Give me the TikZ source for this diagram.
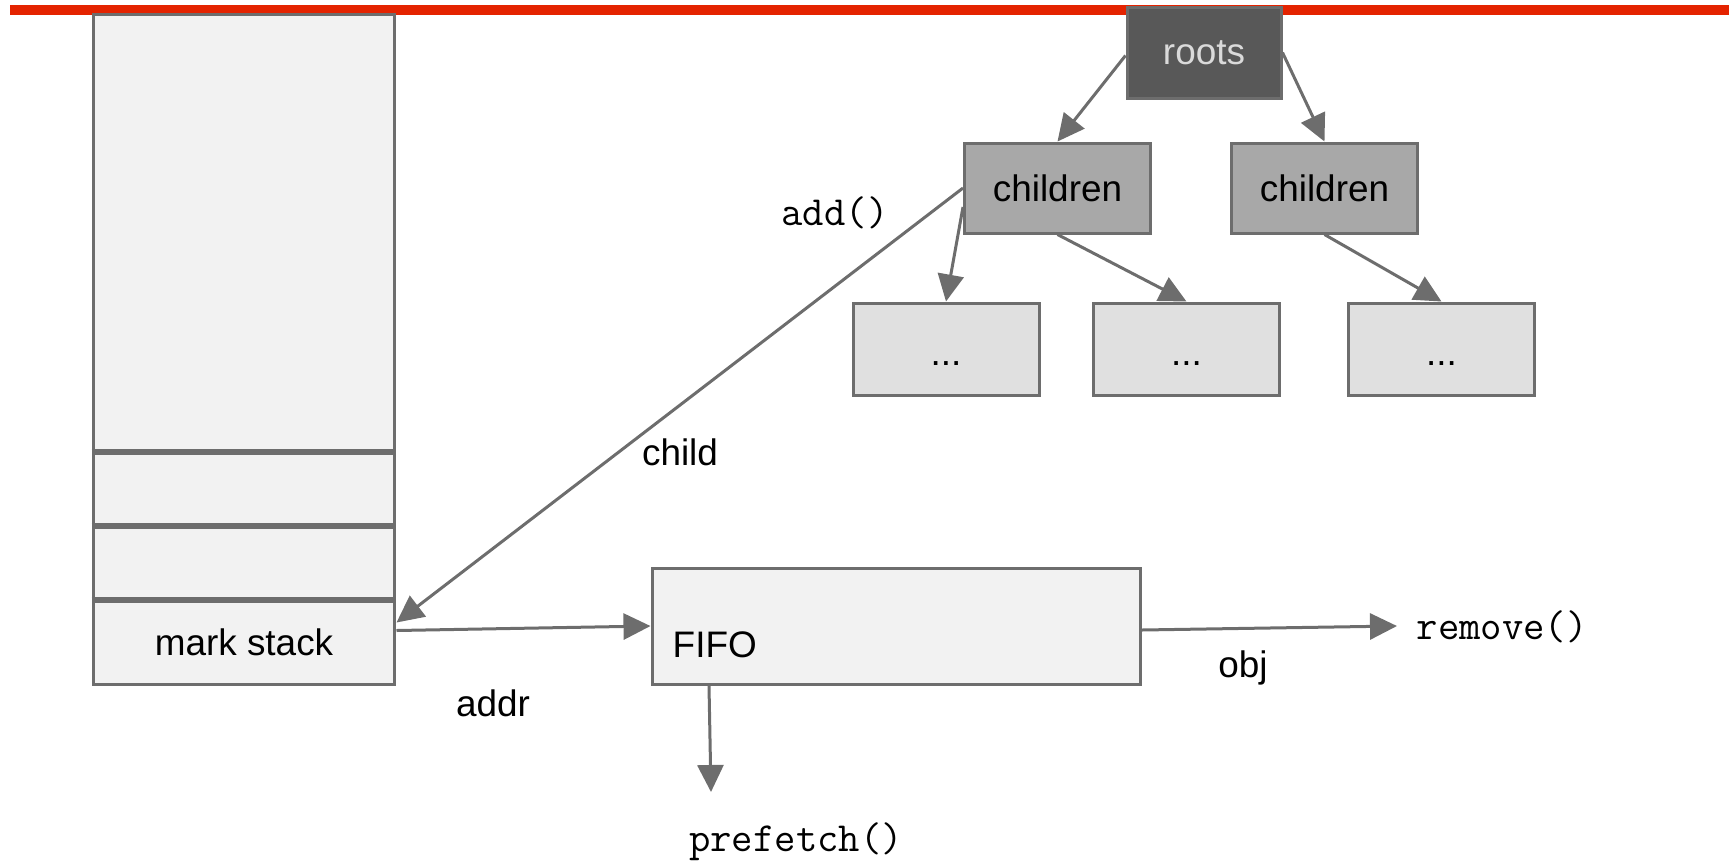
\documentclass[tikz,border=0pt]{standalone}
\usepackage{fontspec}
\setmainfont{Liberation Sans}
\usetikzlibrary{arrows.meta}
\definecolor{linegray}{RGB}{109,109,109}
\definecolor{barred}{RGB}{228,35,0}
\definecolor{cellfill}{RGB}{242,242,242}
\definecolor{kidfill}{RGB}{168,168,168}
\definecolor{leaffill}{RGB}{224,224,224}
\definecolor{rootfill}{RGB}{88,88,88}
\definecolor{roottext}{RGB}{218,218,218}
\tikzset{
  box/.style={draw=linegray,line width=0.3mm,inner sep=0pt,font=\fontsize{10.5}{12}\selectfont},
  cell/.style={box,fill=cellfill,minimum width=30.2mm},
  kid/.style={box,fill=kidfill,minimum width=18.6mm,minimum height=9mm},
  leaf/.style={box,fill=leaffill,minimum width=18.6mm,minimum height=9.2mm,text height=9.4pt,text depth=0pt},
  lbl/.style={inner sep=0pt,font=\fontsize{10.5}{12}\selectfont},
  code/.style={inner sep=0pt,font=\fontsize{11.8}{13}\selectfont\ttfamily},
  link/.style={draw=linegray,line width=0.3mm,-{Triangle[length=2.7mm,width=2.6mm]}},
  divider/.style={draw=linegray,line width=0.6mm},
}
\begin{document}
\begin{tikzpicture}[x=0.1mm,y=-0.1mm]
    \useasboundingbox (0,0) rectangle (1729,861);
    \fill[barred] (10,5) rectangle (1729,15);
    \node[cell,minimum height=43.9mm] (cell0) at (244,233.5) {};
    \node[cell,minimum height=7.4mm] (cell1) at (244,490) {};
    \node[cell,minimum height=7.4mm] (cell2) at (244,564) {};
    \node[cell,minimum height=8.3mm] (mark) at (244,642.5) {mark stack};
    \draw[divider] (cell1.north west) -- (cell1.north east);
    \draw[divider] (cell2.north west) -- (cell2.north east);
    \draw[divider] (mark.north west) -- (mark.north east);
    \node[box,fill=rootfill,text=roottext,minimum width=15.4mm,minimum height=9.1mm] (roots) at (1204,52.5) {roots};
    \node[kid] (kid1) at (1057.5,188) {children};
    \node[kid] (kid2) at (1324.5,188) {children};
    \node[leaf] (leaf1) at (946,349) {...};
    \node[leaf] (leaf2) at (1186.5,349) {...};
    \node[leaf] (leaf3) at (1441.5,349) {...};
    \node[box,fill=cellfill,minimum width=48.8mm,minimum height=11.6mm] (fifo) at (896,626) {};
    \node[lbl,anchor=west] (fifotxt) at (672,645) {FIFO};
    \node[code] (addtxt) at (835,213) {add()};
    \node[lbl] (childtxt) at (680,452) {child};
    \node[lbl] (addrtxt) at (493,703) {addr};
    \node[lbl] (objtxt) at (1243,668) {obj};
    \node[code,anchor=west] (removetxt) at (1416,627) {remove()};
    \node[code] (prefetchtxt) at (796,842) {prefetch()};
    \path (1397,626) coordinate (rmv) (711,792) coordinate (pf);
    \draw[link] ([yshift=-0.3mm]roots.west) -- (kid1.north);
    \draw[link] (roots.east) -- (kid2.north);
    \draw[link] ([yshift=-1.9mm]kid1.west) -- (leaf1.north);
    \draw[link] (kid1.south) -- (leaf2.north);
    \draw[link] (kid2.south) -- (leaf3.north);
    \draw[link] (kid1.west) -- ([yshift=2mm]mark.east);
    \draw[link] ([yshift=1.2mm]mark.east) -- (fifo.west);
    \draw[link] ([yshift=-0.4mm]fifo.east) -- (rmv);
    \draw[link] ([xshift=-18.7mm]fifo.south) -- (pf);
\end{tikzpicture}
\end{document}
